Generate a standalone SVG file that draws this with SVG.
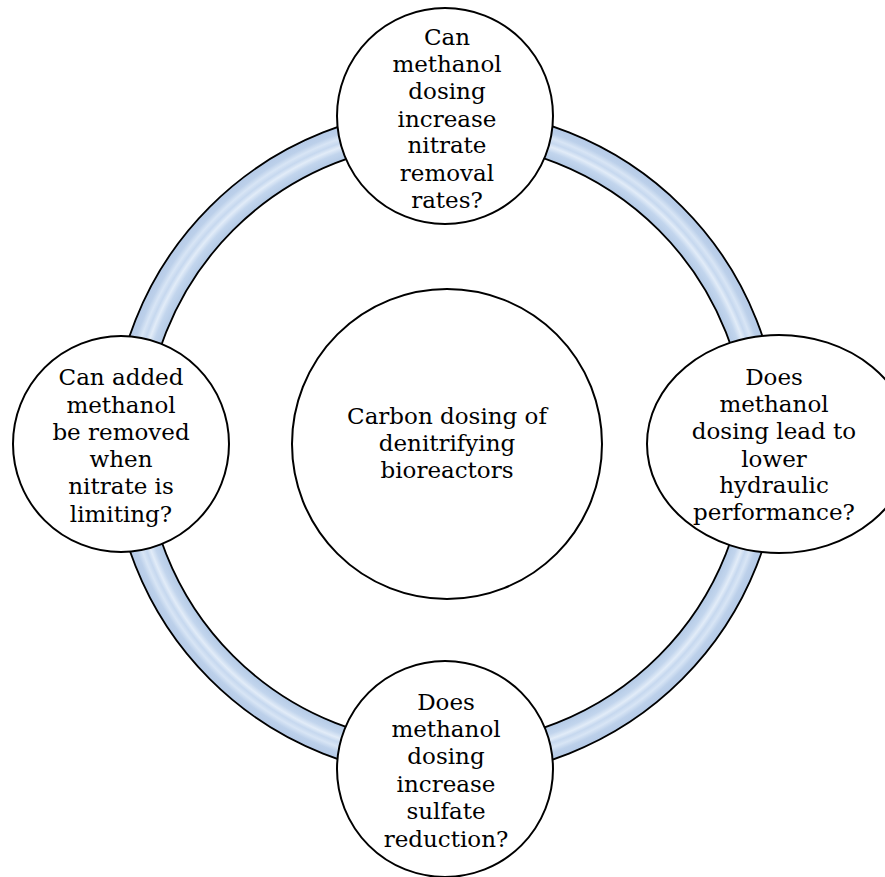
<svg xmlns="http://www.w3.org/2000/svg" width="885" height="877" viewBox="0 0 885 877">
  <defs>
    <radialGradient id="tube" gradientUnits="userSpaceOnUse" cx="446" cy="443" r="334">
      <stop offset="0.895" stop-color="#b0c7e4"/>
      <stop offset="0.925" stop-color="#c2d5ed"/>
      <stop offset="0.94" stop-color="#e2ecf8"/>
      <stop offset="0.952" stop-color="#c6d8ef"/>
      <stop offset="0.965" stop-color="#d8e5f5"/>
      <stop offset="0.98" stop-color="#bcd0ea"/>
      <stop offset="1" stop-color="#b5cae7"/>
    </radialGradient>
    <style>
      .node { fill: #ffffff; stroke: #000000; stroke-width: 2; }
      .lbl { font-family: "DejaVu Serif", "Liberation Serif", serif; font-size: 23px; fill: #000000; text-anchor: middle; }
      .ring { fill: url(#tube); fill-rule: evenodd; stroke: #000000; stroke-width: 1.8; }
    </style>
  </defs>

  <g id="connectors">
    <path class="ring" d="M 446 109 A 334 334 0 1 1 446 777 A 334 334 0 1 1 446 109 Z M 446 142 A 301 301 0 1 0 446 744 A 301 301 0 1 0 446 142 Z"/>
  </g>

  <g id="center">
    <circle class="node" cx="447" cy="444" r="155"/>
    <text class="lbl" x="447" y="424">Carbon dosing of</text>
    <text class="lbl" x="447" y="451">denitrifying</text>
    <text class="lbl" x="447" y="478">bioreactors</text>
  </g>

  <g id="top">
    <circle class="node" cx="445" cy="116" r="108"/>
    <text class="lbl" x="447" y="45">Can</text>
    <text class="lbl" x="447" y="72">methanol</text>
    <text class="lbl" x="447" y="99">dosing</text>
    <text class="lbl" x="447" y="127">increase</text>
    <text class="lbl" x="447" y="153">nitrate</text>
    <text class="lbl" x="447" y="181">removal</text>
    <text class="lbl" x="447" y="208">rates?</text>
  </g>

  <g id="left">
    <circle class="node" cx="121" cy="444" r="108"/>
    <text class="lbl" x="121" y="385">Can added</text>
    <text class="lbl" x="121" y="413">methanol</text>
    <text class="lbl" x="121" y="440">be removed</text>
    <text class="lbl" x="121" y="467">when</text>
    <text class="lbl" x="121" y="494">nitrate is</text>
    <text class="lbl" x="121" y="522">limiting?</text>
  </g>

  <g id="right">
    <ellipse class="node" cx="779" cy="444" rx="132" ry="109"/>
    <text class="lbl" x="774" y="385">Does</text>
    <text class="lbl" x="774" y="412">methanol</text>
    <text class="lbl" x="774" y="439">dosing lead to</text>
    <text class="lbl" x="774" y="467">lower</text>
    <text class="lbl" x="774" y="493">hydraulic</text>
    <text class="lbl" x="774" y="520">performance?</text>
  </g>

  <g id="bottom">
    <circle class="node" cx="445" cy="769" r="108"/>
    <text class="lbl" x="446" y="710">Does</text>
    <text class="lbl" x="446" y="737">methanol</text>
    <text class="lbl" x="446" y="764">dosing</text>
    <text class="lbl" x="446" y="792">increase</text>
    <text class="lbl" x="446" y="819">sulfate</text>
    <text class="lbl" x="446" y="847">reduction?</text>
  </g>
</svg>
